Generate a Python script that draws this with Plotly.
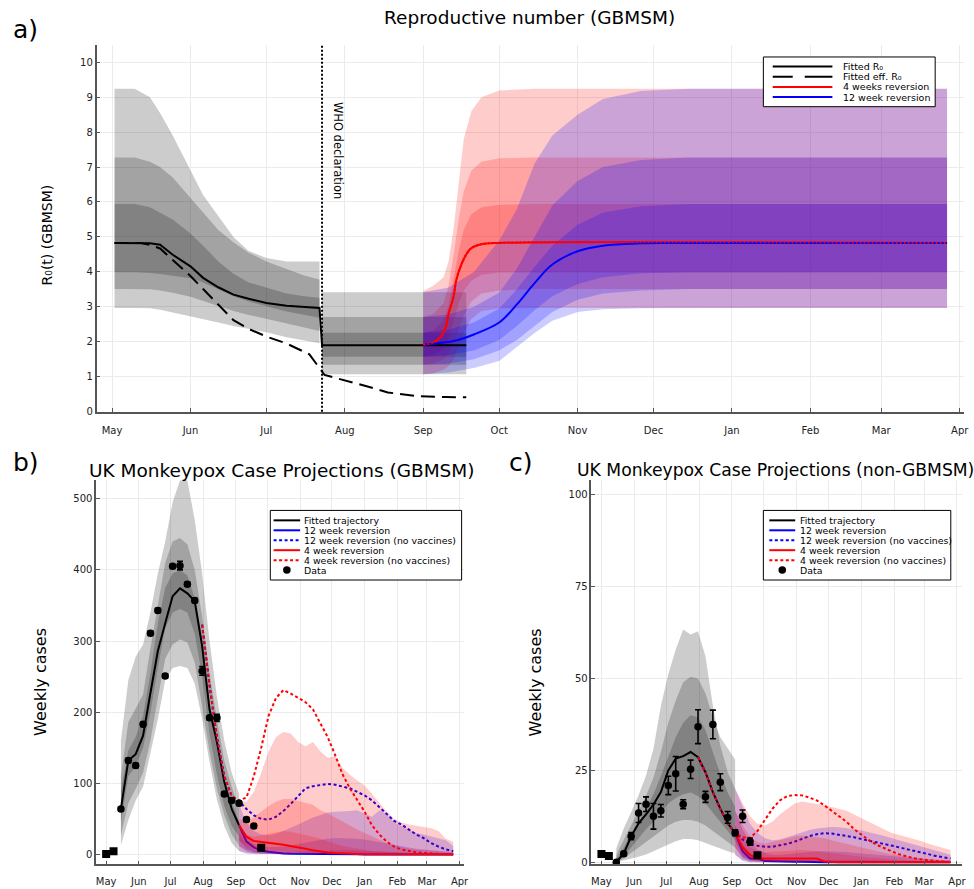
import pandas as pd
import plotly.graph_objects as go

W, H = 974, 889
FONT = "DejaVu Sans"

# ---------------- Panel a : reproductive number ----------------
A_PRE_DATES = ["2022-05-02", "2022-05-10", "2022-05-16", "2022-05-20", "2022-05-25", "2022-06-01",
               "2022-06-06", "2022-06-12", "2022-06-18", "2022-06-24", "2022-07-01", "2022-07-09",
               "2022-07-16", "2022-07-22"]
A_FIT_PRE = [4.83, 4.83, 4.82, 4.78, 4.49, 4.16, 3.83, 3.56, 3.35, 3.23, 3.11, 3.03, 2.99, 2.97]
A_PRE_OUT_HI = [9.24, 9.24, 9.0, 8.55, 7.9, 6.9, 6.2, 5.6, 5.0, 4.6, 4.4, 4.3, 4.3, 4.3]
A_PRE_OUT_LO = [2.97, 2.97, 2.96, 2.92, 2.84, 2.72, 2.64, 2.55, 2.45, 2.36, 2.27, 2.13, 2.04, 1.96]
A_PRE_MID_HI = [7.27, 7.27, 7.15, 7.0, 6.7, 6.1, 5.7, 5.2, 4.85, 4.55, 4.3, 4.08, 3.9, 3.78]
A_PRE_MID_LO = [3.51, 3.51, 3.5, 3.47, 3.4, 3.29, 3.18, 3.02, 2.88, 2.77, 2.66, 2.52, 2.41, 2.31]
A_PRE_IN_HI = [5.94, 5.94, 5.85, 5.7, 5.5, 5.1, 4.75, 4.3, 3.95, 3.7, 3.55, 3.38, 3.3, 3.26]
A_PRE_IN_LO = [3.99, 3.99, 3.97, 3.94, 3.9, 3.82, 3.7, 3.5, 3.3, 3.15, 3.02, 2.87, 2.77, 2.69]

A_POST_DATES = ["2022-07-23", "2022-09-18"]
A_FIT_POST = [1.9, 1.9]
A_POST_OUT = (1.07, 3.42)
A_POST_MID = (1.34, 2.71)
A_POST_IN = (1.57, 2.26)

A_EFF_DATES = ["2022-05-02", "2022-05-12", "2022-05-16", "2022-05-20", "2022-05-25", "2022-06-01",
               "2022-06-06", "2022-06-12", "2022-06-18", "2022-06-24", "2022-07-01", "2022-07-09",
               "2022-07-18", "2022-07-24", "2022-08-02", "2022-08-10", "2022-08-18", "2022-08-30",
               "2022-09-10", "2022-09-18"]
A_EFF = [4.83, 4.83, 4.77, 4.67, 4.34, 3.88, 3.51, 3.05, 2.62, 2.37, 2.15, 1.95, 1.64, 1.05,
         0.88, 0.72, 0.55, 0.44, 0.42, 0.41]

A_RED_DATES = ["2022-09-01", "2022-09-05", "2022-09-08", "2022-09-10", "2022-09-11", "2022-09-13",
               "2022-09-14", "2022-09-16", "2022-09-18", "2022-09-20", "2022-09-24", "2022-10-01",
               "2023-03-27"]
A_RED = [1.92, 1.98, 2.15, 2.45, 2.8, 3.3, 3.75, 4.2, 4.5, 4.68, 4.79, 4.83, 4.83]

A_BLUE_DATES = ["2022-09-01", "2022-09-13", "2022-09-21", "2022-10-01", "2022-10-08", "2022-10-15",
                "2022-10-22", "2022-11-01", "2022-11-11", "2022-11-26", "2022-12-10", "2023-03-27"]
A_BLUE = [1.92, 2.02, 2.21, 2.55, 3.07, 3.68, 4.21, 4.59, 4.75, 4.82, 4.83, 4.83]

A_RB_DATES = ["2022-09-01", "2022-09-05", "2022-09-09", "2022-09-11", "2022-09-13", "2022-09-15",
              "2022-09-17", "2022-09-20", "2022-09-24", "2022-10-01", "2022-10-15", "2023-03-27"]
A_RB_OUT_HI = [3.45, 3.6, 3.85, 4.3, 5.25, 6.6, 7.8, 8.6, 9.0, 9.19, 9.24, 9.24]
A_RB_OUT_LO = [1.07, 1.1, 1.2, 1.3, 1.5, 1.85, 2.25, 2.65, 2.88, 2.95, 2.97, 2.97]
A_RB_MID_HI = [2.71, 2.8, 3.1, 3.6, 4.5, 5.5, 6.3, 6.9, 7.15, 7.25, 7.27, 7.27]
A_RB_MID_LO = [1.34, 1.38, 1.5, 1.65, 1.95, 2.35, 2.75, 3.15, 3.38, 3.47, 3.51, 3.51]
A_RB_IN_HI = [2.26, 2.33, 2.6, 3.05, 3.8, 4.6, 5.2, 5.65, 5.85, 5.92, 5.94, 5.94]
A_RB_IN_LO = [1.57, 1.62, 1.8, 2.1, 2.6, 3.1, 3.45, 3.75, 3.92, 3.98, 3.99, 3.99]

A_BB_DATES = ["2022-09-01", "2022-09-11", "2022-09-21", "2022-10-01", "2022-10-08", "2022-10-15",
              "2022-10-22", "2022-11-01", "2022-11-11", "2022-11-26", "2022-12-15", "2023-03-27"]
A_BB_OUT_HI = [3.42, 3.55, 4.0, 4.9, 5.8, 7.1, 7.9, 8.5, 8.95, 9.18, 9.24, 9.24]
A_BB_OUT_LO = [1.07, 1.12, 1.25, 1.45, 1.85, 2.25, 2.6, 2.85, 2.93, 2.96, 2.97, 2.97]
A_BB_MID_HI = [2.71, 2.78, 3.0, 3.4, 4.1, 5.0, 5.9, 6.6, 7.0, 7.2, 7.27, 7.27]
A_BB_MID_LO = [1.34, 1.38, 1.5, 1.75, 2.05, 2.45, 2.85, 3.2, 3.38, 3.47, 3.51, 3.51]
A_BB_IN_HI = [2.26, 2.35, 2.55, 2.95, 3.5, 4.15, 4.75, 5.35, 5.7, 5.88, 5.94, 5.94]
A_BB_IN_LO = [1.57, 1.62, 1.75, 2.05, 2.45, 2.9, 3.3, 3.65, 3.85, 3.96, 3.99, 3.99]

WHO_DATE = "2022-07-23"

# ---------------- Weekly series (panels b and c) ----------------
WEEKS = [d.strftime("%Y-%m-%d") for d in pd.date_range("2022-05-01", "2023-03-26", freq="7D")]
FIT_WEEKS = WEEKS[2:19]      # 15 May - 4 Sep
DATA_WEEKS = WEEKS[2:21]     # 15 May - 18 Sep
SQUARE_WEEKS = [WEEKS[0], WEEKS[1], WEEKS[21]]
NOVAC_WEEKS = WEEKS[13:]     # 31 Jul - 26 Mar
PROJ_WEEKS = WEEKS[18:]      # 4 Sep - 26 Mar

# Panel b (GBMSM)
B_FIT = [64, 132, 141, 167, 227, 286, 325, 363, 374, 367, 356, 293, 204, 158, 102, 64, 41]
B_FIT_OUT_HI = [160, 245, 278, 295, 340, 395, 440, 495, 526, 526, 470, 395, 300, 222, 160, 115, 85]
B_FIT_OUT_LO = [13, 48, 76, 95, 140, 190, 245, 262, 265, 262, 240, 190, 130, 77, 40, 16, 5]
B_FIT_MID_HI = [110, 186, 205, 225, 290, 350, 410, 440, 445, 436, 400, 335, 255, 190, 132, 95, 65]
B_FIT_MID_LO = [27, 72, 92, 115, 160, 220, 275, 295, 302, 298, 270, 210, 145, 92, 55, 28, 13]
B_FIT_IN_HI = [90, 146, 165, 195, 255, 325, 375, 395, 400, 392, 360, 305, 215, 158, 108, 74, 46]
B_FIT_IN_LO = [45, 110, 124, 150, 200, 262, 318, 340, 345, 340, 310, 250, 170, 112, 68, 40, 26]
B_DATA = [64, 132, 125, 183, 311, 343, 251, 405, 406, 380, 357, 258, 192, 192, 85, 76, 72, 49, 40]
B_ERR = [3, 3, 3, 3, 3, 3, 3, 3, 6, 3, 3, 6, 3, 5, 3, 3, 3, 3, 3]
B_SQUARES = [0.5, 4.5, 9.5]
B_RED_NOVAC = [323, 238, 165, 110, 82, 76, 80, 110, 150, 195, 220, 231, 226, 220, 214, 204, 185,
               165, 140, 113, 93, 77, 60, 41, 28, 18, 11, 7, 4.6, 3, 2.2, 1.2, 0.8, 0.4, 0.2]
B_BLUE_NOVAC = [323, 238, 165, 110, 82, 75, 64, 55, 50, 49, 53, 61, 71, 82, 93, 96, 98, 99, 98,
                96, 93, 88, 83, 76, 67, 57, 47, 42, 35, 28, 23, 16, 11, 7, 4.6]
B_RED = [41, 25, 19, 18, 16.5, 15, 13.5, 12, 10, 8, 6, 4, 2.8, 2, 1.3, 0.9, 0.6, 0.4, 0.3, 0.2,
         0.2, 0.1, 0.1, 0.1, 0.1, 0, 0, 0, 0, 0]
B_BLUE = [41, 18, 10, 5.5, 3.8, 2.5, 1.5, 1.0, 0.8, 0.6, 0.5, 0.4, 0.3, 0.3, 0.2, 0.2, 0.2, 0.1,
          0.1, 0.1, 0.1, 0.1, 0, 0, 0, 0, 0, 0, 0, 0]
B_RED_OUT_HI = [75, 74, 88, 115, 145, 165, 172, 170, 158, 152, 158, 145, 136, 138, 122, 112, 104,
                97, 85, 72, 60, 50, 45, 42, 40, 39, 37, 33, 22, 18]
B_RED_MID_HI = [50, 45, 52, 60, 68, 74, 78, 78, 75, 73, 70, 62, 58, 52, 46, 40, 35, 30, 25, 20,
                16, 13, 10, 8, 7, 6, 5, 4, 3, 3]
B_RED_IN_HI = [35, 28, 25, 27, 30, 32, 33, 32, 30, 28, 25, 22, 18, 15, 12, 10, 8, 6, 5, 4, 3, 3,
               2, 2, 1, 1, 1, 1, 1, 1]
B_RED_OUT_LO = [5, 2, 1, 0.5, 0.3, 0.2, 0.1, 0, 0, 0, 0, 0, 0, 0, 0, 0, 0, 0, 0, 0, 0, 0, 0, 0,
                0, 0, 0, 0, 0, 0]
B_RED_MID_LO = [12, 6, 3, 2, 1.5, 1.2, 1, 0.8, 0.6, 0.5, 0.4, 0.3, 0.2, 0.2, 0.1, 0.1, 0, 0, 0,
                0, 0, 0, 0, 0, 0, 0, 0, 0, 0, 0]
B_RED_IN_LO = [20, 12, 8, 6, 5, 4.5, 4, 3.5, 3, 2.5, 2, 1.5, 1.2, 1, 0.8, 0.6, 0.5, 0.4, 0.3, 0.2,
               0.2, 0.1, 0.1, 0.1, 0, 0, 0, 0, 0, 0]
B_BLUE_OUT_HI = [70, 45, 33, 28, 27, 29, 33, 37, 42, 47, 52, 55, 59, 60, 60, 61, 62, 58, 53, 62,
                 56, 45, 40, 34, 30, 28, 25, 22, 20, 12]
B_BLUE_MID_HI = [45, 25, 15, 11, 10, 10, 11, 13, 15, 17, 19, 21, 22, 23, 23, 23, 22, 21, 19, 17,
                 15, 13, 11, 10, 8, 7, 6, 5, 4, 3]
B_BLUE_IN_HI = [30, 14, 7, 4, 3, 3, 3, 3.5, 4, 4.5, 5, 5.5, 6, 6, 6, 6, 5.5, 5, 4.5, 4, 3.5, 3,
                2.5, 2, 1.8, 1.5, 1.2, 1, 0.8, 0.6]
B_BLUE_OUT_LO = [5, 1, 0.5, 0.2, 0, 0, 0, 0, 0, 0, 0, 0, 0, 0, 0, 0, 0, 0, 0, 0, 0, 0, 0, 0, 0,
                 0, 0, 0, 0, 0]
B_BLUE_MID_LO = [12, 4, 1.5, 0.8, 0.5, 0.3, 0.2, 0.1, 0, 0, 0, 0, 0, 0, 0, 0, 0, 0, 0, 0, 0, 0,
                 0, 0, 0, 0, 0, 0, 0, 0]
B_BLUE_IN_LO = [20, 8, 3.5, 1.5, 1, 0.8, 0.6, 0.5, 0.5, 0.5, 0.5, 0.5, 0.5, 0.5, 0.5, 0.4, 0.4,
                0.3, 0.3, 0.2, 0.2, 0.2, 0.1, 0.1, 0.1, 0, 0, 0, 0, 0]

# Panel c (non-GBMSM)
C_FIT = [0, 2.4, 7, 10.6, 13, 15.7, 19.1, 25, 28.2, 28.9, 30, 28.6, 24.5, 19.1, 14.6, 10.6, 7.9]
C_FIT_OUT_HI = [3.8, 9.2, 13.7, 18.2, 23.6, 30.9, 42.6, 51.2, 57.9, 63.4, 62, 62.9, 56.1, 42.6,
                31.8, 24.5, 20]
C_FIT_OUT_LO = [0, 0.4, 1, 1.5, 2.1, 2.9, 3.8, 4.8, 5.7, 6.3, 6.3, 6.0, 5.3, 4.6, 3.8, 3.0, 2.4]
C_FIT_MID_HI = [2, 6, 10, 14, 18, 23, 30, 38, 44, 49, 50.5, 50, 46, 39.5, 34, 31, 28]
C_FIT_MID_LO = [0, 1, 2.5, 4, 5.5, 7, 8.5, 10, 11, 11.5, 11.5, 11, 10, 8.5, 7, 5.5, 4]
C_FIT_IN_HI = [1, 4, 8, 11, 14.5, 18.5, 23.5, 29, 34, 38, 40, 39.5, 36, 30, 24, 19, 15]
C_FIT_IN_LO = [0, 1.5, 4, 6.5, 9, 11, 13.5, 16, 17.5, 18.5, 19, 18, 16, 13.5, 11, 8.5, 6]
C_DATA = [0, 2.3, 7.1, 13.4, 15.8, 12.5, 14.0, 20.9, 24.1, 15.8, 25.3, 36.9, 17.8, 37.5, 21.8,
          12.2, 8.0, 12.5, 5.6]
C_ERR = [0.3, 0.6, 1.0, 2.6, 2.0, 3.5, 1.7, 2.5, 4.7, 1.2, 2.5, 4.6, 1.5, 3.9, 2.3, 1.6, 0.8,
         1.7, 1.0]
C_SQUARES = [2.2, 1.7, 1.9]
C_RED_NOVAC = [28.6, 24.5, 19, 14.5, 10.5, 8, 6.8, 6.6, 8.5, 11.5, 14.5, 16.8, 18, 18.3, 18.2,
               17.6, 16.8, 15.5, 14, 12.5, 11, 9, 7.5, 6, 4.8, 3.8, 3, 2.2, 1.6, 1.1, 0.8, 0.5,
               0.3, 0.2, 0.1]
C_BLUE_NOVAC = [28.6, 24.5, 19, 14.5, 10.5, 8, 6.2, 5.0, 4.5, 4.2, 4.2, 4.5, 5.0, 5.6, 6.4, 7.1,
                7.6, 7.9, 7.8, 7.5, 7.2, 6.8, 6.3, 5.9, 5.5, 5.0, 4.6, 4.1, 3.6, 3.2, 2.7, 2.2,
                1.7, 1.3, 1.0]
C_RED = [8, 4, 2, 1, 1, 1, 1, 1, 1, 1, 1, 1, 0.2, 0, 0, 0, 0, 0, 0, 0, 0, 0, 0, 0, 0, 0, 0, 0,
         0, 0]
C_BLUE = [8, 3, 1, 1, 0.3, 0.2, 0.2, 0.2, 0.1, 0.1, 0, 0, 0, 0, 0, 0, 0, 0, 0, 0, 0, 0, 0, 0, 0,
          0, 0, 0, 0, 0]
C_RED_OUT_HI = [20, 16, 12.5, 10.5, 10, 11, 13, 14.5, 16, 16.5, 16.2, 15.8, 15.5, 15, 14.5, 14,
                13, 12, 11, 10, 9, 8, 7.5, 7, 6.5, 5.8, 5, 4.5, 4, 3.3]
C_RED_MID_HI = [14, 10, 7, 5.5, 5, 5.5, 6, 6.5, 7, 7.2, 7, 6.8, 6.5, 6, 5.5, 5, 4.5, 4, 3.5, 3,
                2.6, 2.2, 1.9, 1.6, 1.3, 1.1, 0.9, 0.7, 0.6, 0.5]
C_RED_IN_HI = [10, 6, 4, 3, 2.7, 2.8, 3, 3.2, 3.3, 3.3, 3.2, 3, 2.8, 2.5, 2.2, 2, 1.7, 1.5, 1.3,
               1.1, 0.9, 0.8, 0.7, 0.6, 0.5, 0.4, 0.3, 0.3, 0.2, 0.2]
C_RED_OUT_LO = [2, 0.5, 0, 0, 0, 0, 0, 0, 0, 0, 0, 0, 0, 0, 0, 0, 0, 0, 0, 0, 0, 0, 0, 0, 0, 0,
                0, 0, 0, 0]
C_RED_MID_LO = [4, 1.5, 0.5, 0.2, 0, 0, 0, 0, 0, 0, 0, 0, 0, 0, 0, 0, 0, 0, 0, 0, 0, 0, 0, 0, 0,
                0, 0, 0, 0, 0]
C_RED_IN_LO = [6, 2.5, 1, 0.5, 0.3, 0.3, 0.3, 0.3, 0.3, 0.3, 0.3, 0.3, 0.2, 0.2, 0.1, 0.1, 0, 0,
               0, 0, 0, 0, 0, 0, 0, 0, 0, 0, 0, 0]
C_BLUE_OUT_HI = [20, 15, 10.5, 8, 6.5, 6, 6.2, 6.8, 7.5, 8.2, 8.8, 9.2, 9.5, 9.6, 9.5, 9.3, 9,
                 8.6, 8.2, 7.8, 7.2, 6.6, 6, 5.4, 4.8, 4.2, 3.6, 3, 2.5, 2]
C_BLUE_MID_HI = [14, 9, 5.5, 3.5, 2.5, 2, 2, 2.2, 2.4, 2.7, 2.9, 3, 3, 3, 2.9, 2.8, 2.6, 2.4,
                 2.2, 2, 1.8, 1.6, 1.4, 1.2, 1, 0.9, 0.7, 0.6, 0.5, 0.4]
C_BLUE_IN_HI = [10, 5, 2.5, 1.5, 1, 0.8, 0.7, 0.7, 0.7, 0.8, 0.8, 0.8, 0.8, 0.8, 0.8, 0.7, 0.7,
                0.6, 0.6, 0.5, 0.5, 0.4, 0.4, 0.3, 0.3, 0.3, 0.2, 0.2, 0.2, 0.2]
C_BLUE_OUT_LO = [2, 0.3, 0, 0, 0, 0, 0, 0, 0, 0, 0, 0, 0, 0, 0, 0, 0, 0, 0, 0, 0, 0, 0, 0, 0, 0,
                 0, 0, 0, 0]
C_BLUE_MID_LO = [4, 1, 0.2, 0, 0, 0, 0, 0, 0, 0, 0, 0, 0, 0, 0, 0, 0, 0, 0, 0, 0, 0, 0, 0, 0, 0,
                 0, 0, 0, 0]
C_BLUE_IN_LO = [6, 1.5, 0.5, 0.2, 0.1, 0.1, 0, 0, 0, 0, 0, 0, 0, 0, 0, 0, 0, 0, 0, 0, 0, 0, 0, 0,
                0, 0, 0, 0, 0, 0]

# ---------------- Styling ----------------
GRAY = "rgba(0,0,0,0.2)"
PINK = "rgba(255,0,0,0.2)"
LBLUE = "rgba(0,0,255,0.2)"


def px(x):
    return x / W


def py(y):
    return 1 - y / H


fig = go.Figure()


def band(ax, dates, lo, hi, color):
    d = list(dates)
    fig.add_trace(go.Scatter(
        x=d + d[::-1], y=list(hi) + list(lo)[::-1], fill="toself", fillcolor=color,
        mode="lines", line=dict(width=0), hoverinfo="skip", showlegend=False,
        xaxis="x" + ax, yaxis="y" + ax))


def line(ax, x, y, color, width=2, dash="solid", shape="linear"):
    fig.add_trace(go.Scatter(
        x=x, y=y, mode="lines", line=dict(color=color, width=width, dash=dash, shape=shape),
        hoverinfo="skip", showlegend=False, xaxis="x" + ax, yaxis="y" + ax))


# ---- panel a traces ----
band("", A_PRE_DATES, A_PRE_OUT_LO, A_PRE_OUT_HI, GRAY)
band("", A_PRE_DATES, A_PRE_MID_LO, A_PRE_MID_HI, GRAY)
band("", A_PRE_DATES, A_PRE_IN_LO, A_PRE_IN_HI, GRAY)
for lo_hi in (A_POST_OUT, A_POST_MID, A_POST_IN):
    band("", A_POST_DATES, [lo_hi[0]] * 2, [lo_hi[1]] * 2, GRAY)
band("", A_RB_DATES, A_RB_OUT_LO, A_RB_OUT_HI, PINK)
band("", A_RB_DATES, A_RB_MID_LO, A_RB_MID_HI, PINK)
band("", A_RB_DATES, A_RB_IN_LO, A_RB_IN_HI, PINK)
band("", A_BB_DATES, A_BB_OUT_LO, A_BB_OUT_HI, LBLUE)
band("", A_BB_DATES, A_BB_MID_LO, A_BB_MID_HI, LBLUE)
band("", A_BB_DATES, A_BB_IN_LO, A_BB_IN_HI, LBLUE)
line("", A_PRE_DATES + A_POST_DATES, A_FIT_PRE + A_FIT_POST, "black", 2)
line("", A_EFF_DATES, A_EFF, "black", 2, dash="14px,7px")
line("", A_RED_DATES, A_RED, "red", 2, shape="spline")
line("", A_BLUE_DATES, A_BLUE, "blue", 2, shape="spline")
line("", A_RED_DATES, A_RED, "red", 2, dash="2px,2px", shape="spline")

# ---- panels b and c ----
def case_panel(ax, fit, fo_lo, fo_hi, fm_lo, fm_hi, fi_lo, fi_hi, data, err, squares,
               red_nv, blue_nv, red, blue,
               r_out, r_mid, r_in, b_out, b_mid, b_in):
    band(ax, FIT_WEEKS, fo_lo, fo_hi, GRAY)
    band(ax, FIT_WEEKS, fm_lo, fm_hi, GRAY)
    band(ax, FIT_WEEKS, fi_lo, fi_hi, GRAY)
    line(ax, FIT_WEEKS, fit, "black", 2)
    for lo, hi in (b_out, b_mid, b_in):
        band(ax, PROJ_WEEKS, lo, hi, LBLUE)
    line(ax, PROJ_WEEKS, blue, "blue", 2)
    line(ax, NOVAC_WEEKS, blue_nv, "blue", 2, dash="3px,2.5px")
    for lo, hi in (r_out, r_mid, r_in):
        band(ax, PROJ_WEEKS, lo, hi, PINK)
    line(ax, PROJ_WEEKS, red, "red", 2)
    line(ax, NOVAC_WEEKS, red_nv, "red", 2, dash="3px,2.5px")
    fig.add_trace(go.Scatter(
        x=DATA_WEEKS, y=data, mode="markers",
        marker=dict(color="black", size=7.5, symbol="circle"),
        error_y=dict(type="data", array=err, visible=True, color="black", thickness=1.6, width=3),
        hoverinfo="skip", showlegend=False, xaxis="x" + ax, yaxis="y" + ax))
    fig.add_trace(go.Scatter(
        x=SQUARE_WEEKS, y=squares, mode="markers",
        marker=dict(color="black", size=8, symbol="square"),
        hoverinfo="skip", showlegend=False, xaxis="x" + ax, yaxis="y" + ax))


case_panel("2", B_FIT, B_FIT_OUT_LO, B_FIT_OUT_HI, B_FIT_MID_LO, B_FIT_MID_HI, B_FIT_IN_LO,
           B_FIT_IN_HI, B_DATA, B_ERR, B_SQUARES, B_RED_NOVAC, B_BLUE_NOVAC, B_RED, B_BLUE,
           (B_RED_OUT_LO, B_RED_OUT_HI), (B_RED_MID_LO, B_RED_MID_HI), (B_RED_IN_LO, B_RED_IN_HI),
           (B_BLUE_OUT_LO, B_BLUE_OUT_HI), (B_BLUE_MID_LO, B_BLUE_MID_HI),
           (B_BLUE_IN_LO, B_BLUE_IN_HI))
case_panel("3", C_FIT, C_FIT_OUT_LO, C_FIT_OUT_HI, C_FIT_MID_LO, C_FIT_MID_HI, C_FIT_IN_LO,
           C_FIT_IN_HI, C_DATA, C_ERR, C_SQUARES, C_RED_NOVAC, C_BLUE_NOVAC, C_RED, C_BLUE,
           (C_RED_OUT_LO, C_RED_OUT_HI), (C_RED_MID_LO, C_RED_MID_HI), (C_RED_IN_LO, C_RED_IN_HI),
           (C_BLUE_OUT_LO, C_BLUE_OUT_HI), (C_BLUE_MID_LO, C_BLUE_MID_HI),
           (C_BLUE_IN_LO, C_BLUE_IN_HI))

# ---------------- Axes ----------------
axis_style = dict(showline=True, linecolor="#555555", linewidth=1.5, mirror=False,
                  ticks="inside", ticklen=4, tickcolor="#555555", tickwidth=1,
                  showgrid=True, gridcolor="#ebebeb", gridwidth=0.8, zeroline=False,
                  tickfont=dict(family=FONT, size=10, color="#222222"))
date_axis = dict(axis_style, type="date", tickformat="%b", dtick="M1", tick0="2022-05-01")

fig.update_layout(
    width=W, height=H, margin=dict(l=0, r=0, t=0, b=0),
    paper_bgcolor="white", plot_bgcolor="white", showlegend=False,
    font=dict(family=FONT, color="black"),
    xaxis=dict(date_axis, domain=[px(97), px(969)], anchor="y", ticklabelstandoff=9,
               range=["2022-04-24 21:00", "2023-04-02 17:00"]),
    yaxis=dict(axis_style, domain=[py(414), py(45)], anchor="x", range=[0, 10.5],
               dtick=1, tick0=0),
    xaxis2=dict(date_axis, domain=[px(96.7), px(466.7)], anchor="y2", ticklabelstandoff=7,
                range=["2022-04-21 14:00", "2023-04-05 12:00"]),
    yaxis2=dict(axis_style, domain=[py(869.3), py(483)], anchor="x2", range=[-14, 526],
                dtick=100, tick0=0),
    xaxis3=dict(date_axis, domain=[px(594.5), px(966.7)], anchor="y3", ticklabelstandoff=7,
                range=["2022-04-21 14:00", "2023-04-05 12:00"]),
    yaxis3=dict(axis_style, domain=[py(869.3), py(483)], anchor="x3", range=[-0.6, 104.0],
                dtick=25, tick0=0),
)

shapes = []
annotations = []

# WHO declaration line
shapes.append(dict(type="line", xref="x", yref="y domain", x0=WHO_DATE, x1=WHO_DATE, y0=0, y1=1,
                   line=dict(color="black", width=2, dash="2px,2px"), layer="above"))


def text(t, x, y, size, angle=0):
    annotations.append(dict(text=t, xref="paper", yref="paper", x=px(x), y=py(y),
                            xanchor="center", yanchor="middle", showarrow=False, textangle=angle,
                            font=dict(size=size, family=FONT, color="black")))


text("WHO declaration", 340, 151, 11.5, angle=90)
text("a)", 26, 30, 25)
text("b)", 26, 465, 25)
text("c)", 524, 465, 25)
text("Reproductive number (GBMSM)", 532, 18, 18.5)
text("UK Monkeypox Case Projections (GBMSM)", 283, 473, 18.5)
text("UK Monkeypox Case Projections (non-GBMSM)", 780, 473, 17.2)
text("R₀(t) (GBMSM)", 47, 236, 14, angle=-90)
text("Weekly cases", 40, 686, 16, angle=-90)
text("Weekly cases", 538, 686, 16, angle=-90)


def legend_box(x0, y0, x1, y1, rows, lx0, lx1, tx, ys, fsize):
    shapes.append(dict(type="rect", xref="paper", yref="paper", x0=px(x0), x1=px(x1),
                       y0=py(y1), y1=py(y0), line=dict(color="black", width=1),
                       fillcolor="white", layer="above"))
    for (label, color, dash, kind), yy in zip(rows, ys):
        if kind == "line":
            shapes.append(dict(type="line", xref="paper", yref="paper", x0=px(lx0), x1=px(lx1),
                               y0=py(yy), y1=py(yy), line=dict(color=color, width=2, dash=dash),
                               layer="above"))
        else:
            cx = (lx0 + lx1) / 2
            shapes.append(dict(type="circle", xref="paper", yref="paper", x0=px(cx - 3.8),
                               x1=px(cx + 3.8), y0=py(yy + 3.8), y1=py(yy - 3.8),
                               fillcolor="black", line=dict(color="black", width=0),
                               layer="above"))
        annotations.append(dict(text=label, xref="paper", yref="paper", x=px(tx), y=py(yy),
                                xanchor="left", yanchor="middle", showarrow=False,
                                font=dict(size=fsize, family=FONT, color="black")))


legend_box(767.3, 57.3, 940, 107.3,
           [("Fitted R₀", "black", "solid", "line"),
            ("Fitted eff. R₀", "black", "20px,12px,28px,12px", "line"),
            ("4 weeks reversion", "red", "solid", "line"),
            ("12 week reversion", "blue", "solid", "line")],
           776.7, 836.7, 845, [67, 77.2, 87.4, 97.6], 9.5)

case_rows = [("Fitted trajectory", "black", "solid", "line"),
             ("12 week reversion", "blue", "solid", "line"),
             ("12 week reversion (no vaccines)", "blue", "3px,2.5px", "line"),
             ("4 week reversion", "red", "solid", "line"),
             ("4 week reversion (no vaccines)", "red", "3px,2.5px", "line"),
             ("Data", "black", "solid", "marker")]
row_y = [523.3, 533.3, 543.3, 553.3, 563.3, 573.3]
legend_box(271.7, 513.3, 464, 583.3, case_rows, 275, 301.7, 304, row_y, 9.4)
legend_box(767.3, 513.3, 955.7, 583.3, case_rows, 773.3, 799.3, 801.7, row_y, 9.4)

fig.update_layout(shapes=shapes, annotations=annotations)
fig.write_html("out.html", config={"displayModeBar": False},
               post_script="document.body.style.margin='0px';")
